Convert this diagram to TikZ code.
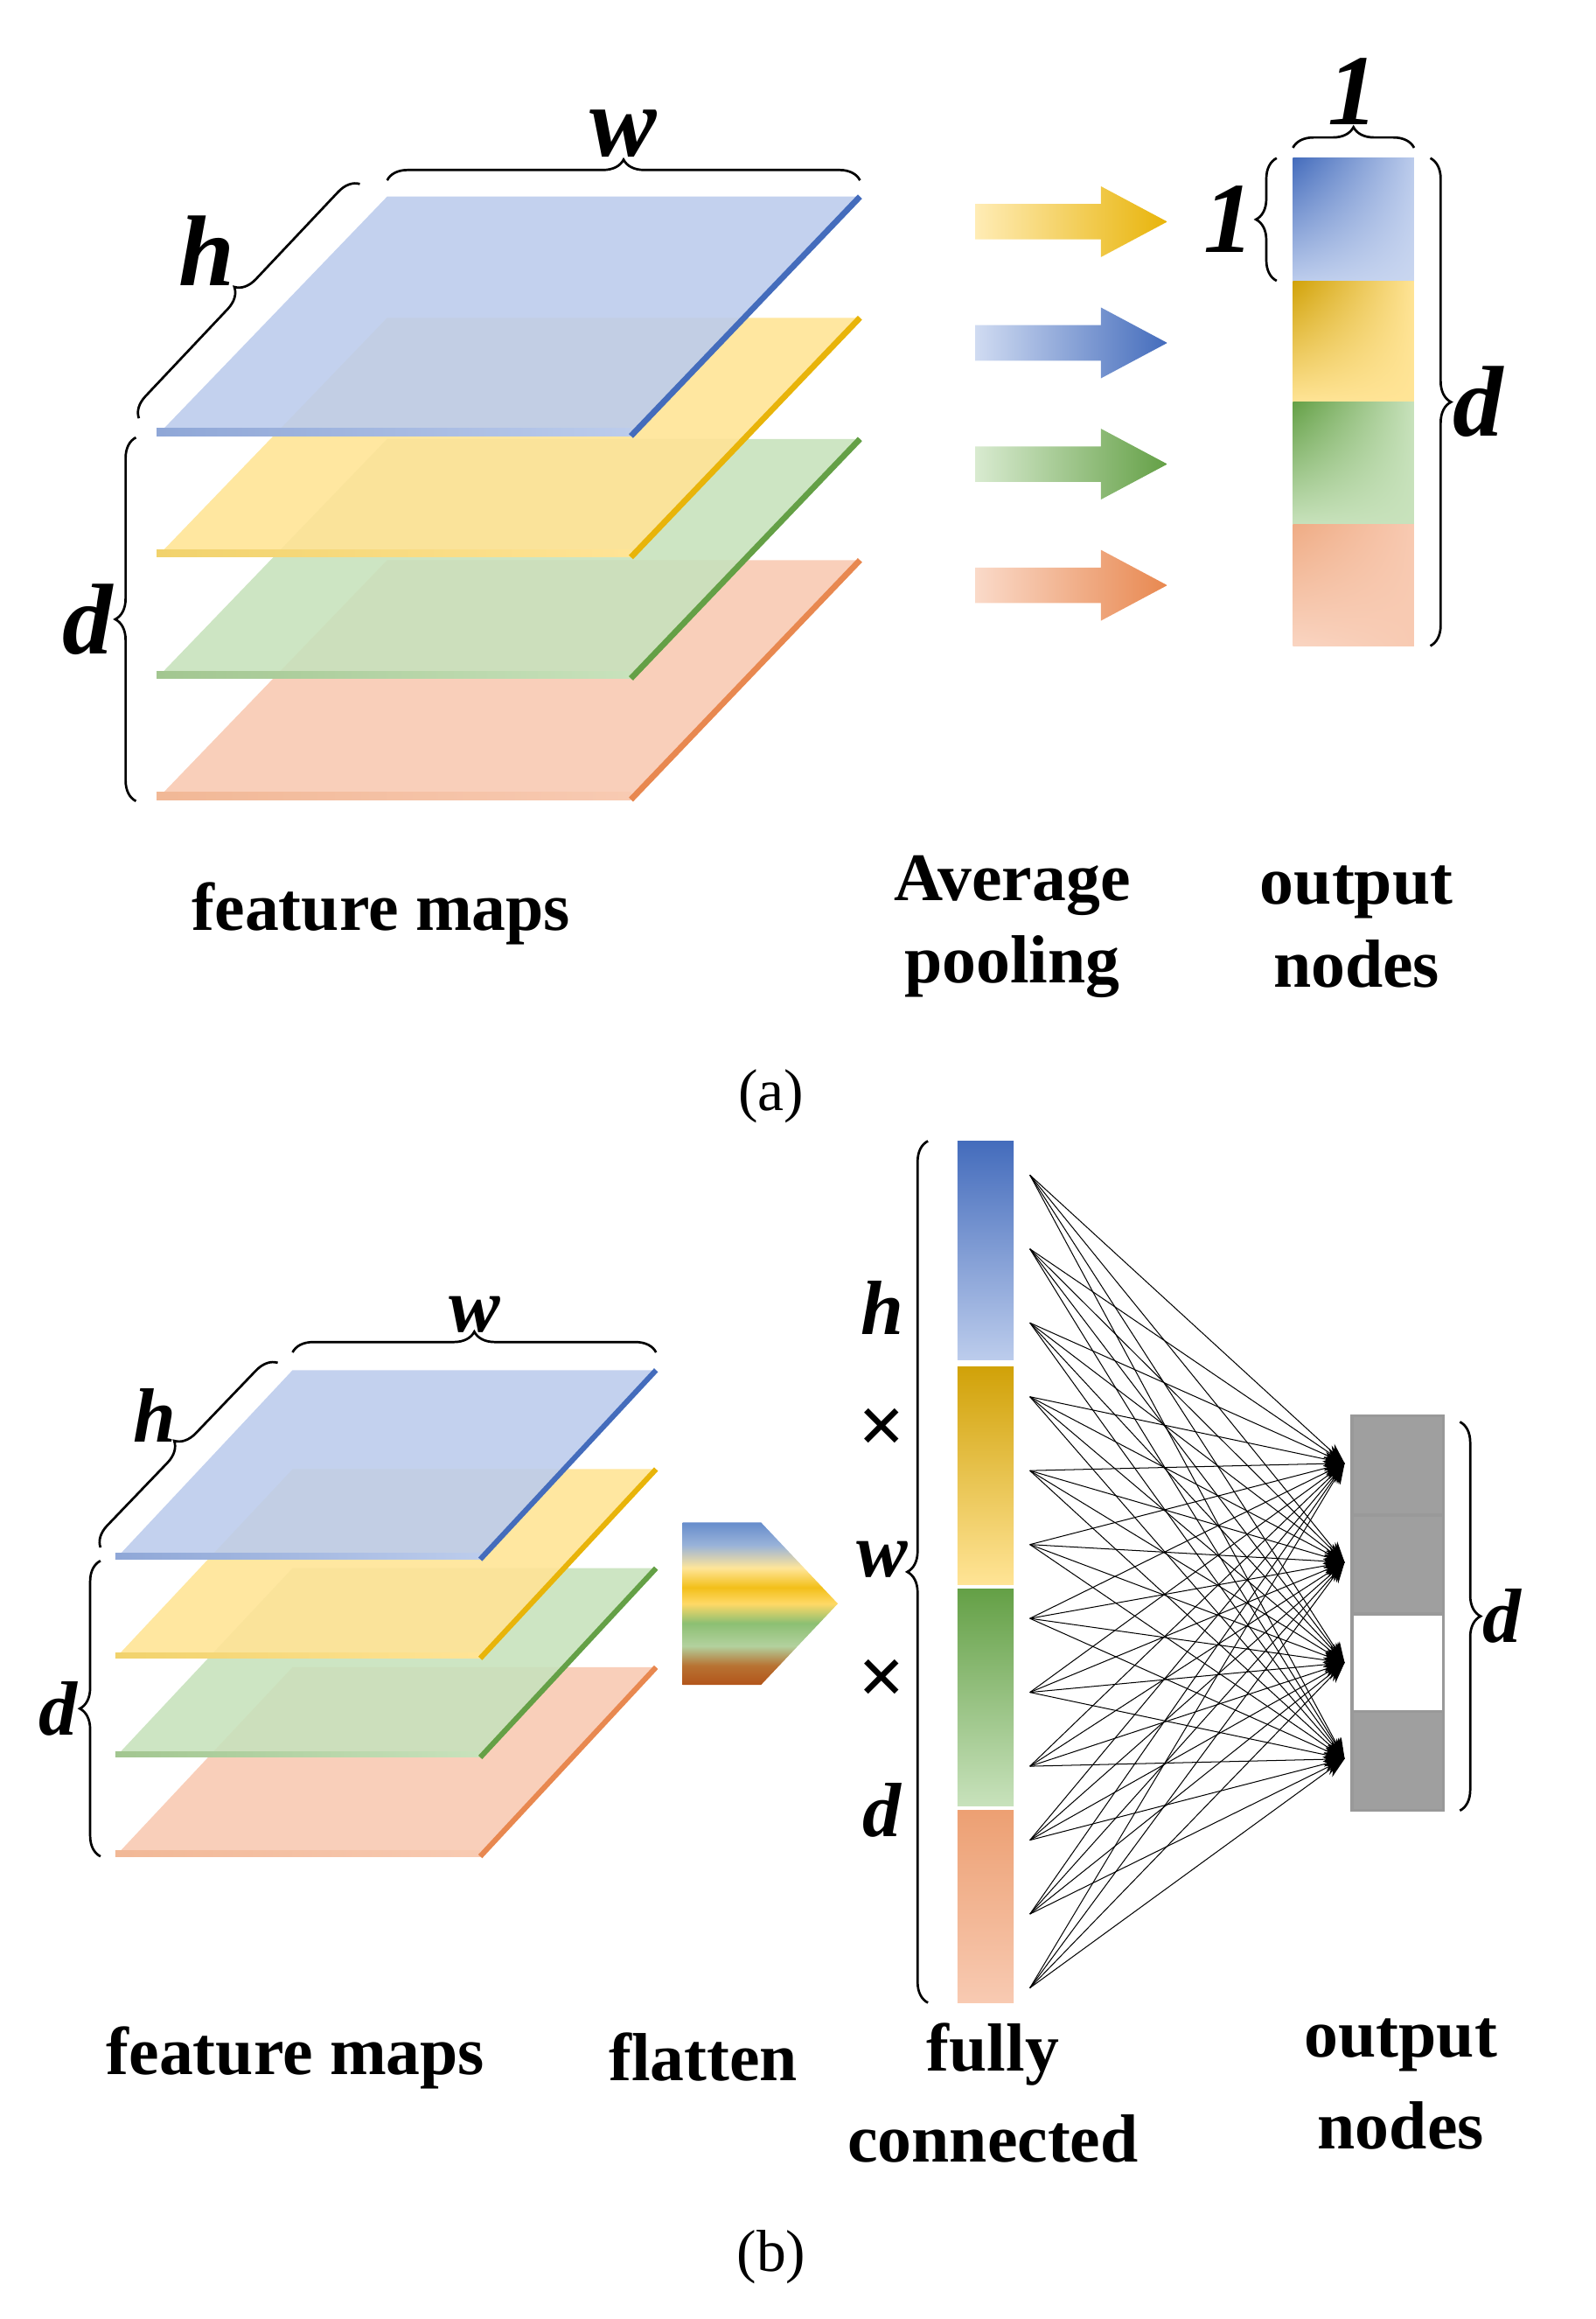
\documentclass[tikz,border=0pt]{standalone}
\usepackage{fontspec}
\setmainfont{Liberation Serif}
\usetikzlibrary{arrows.meta,decorations.pathreplacing,positioning,shadings}
\definecolor{bluF}{RGB}{188,204,236}\definecolor{bluE}{RGB}{68,108,188}
\definecolor{yelF}{RGB}{255,228,150}\definecolor{yelE}{RGB}{232,180,10}
\definecolor{grnF}{RGB}{200,226,188}\definecolor{grnE}{RGB}{100,160,70}
\definecolor{ornF}{RGB}{248,202,178}\definecolor{ornE}{RGB}{232,136,80}
\pgfdeclareverticalshading{flatmix}{100bp}{
  rgb(0bp)=(0.70,0.33,0.10); rgb(25bp)=(0.70,0.33,0.10); rgb(31bp)=(0.72,0.45,0.20); rgb(37bp)=(0.70,0.82,0.62);
  rgb(44bp)=(0.55,0.75,0.45); rgb(50bp)=(1,0.85,0.40); rgb(55bp)=(0.95,0.75,0.10);
  rgb(61bp)=(1,0.90,0.60); rgb(68bp)=(0.60,0.70,0.85); rgb(75bp)=(0.40,0.55,0.80); rgb(100bp)=(0.40,0.55,0.80)}
\tikzset{
  brc/.style={decorate,decoration={brace,amplitude=7pt},line width=0.8pt},
  dim/.style={font=\fontsize{34}{34}\selectfont\bfseries\itshape},
  dimb/.style={font=\fontsize{26}{26}\selectfont\bfseries\itshape},
  lbl/.style={font=\fontsize{23}{28}\selectfont\bfseries,align=center},
  fc/.style={-{Stealth[length=7pt,width=5pt]},line width=0.3pt},
}
\begin{document}
\begin{tikzpicture}[x=0.5pt,y=-0.5pt]
\useasboundingbox (0,0) rectangle (1080,1569);

% (a) feature maps
\foreach \i/\f/\e in {3/ornF/ornE,2/grnF/grnE,1/yelF/yelE,0/bluF/bluE}{
  \pgfmathsetmacro\dy{82*\i}
  \fill[\f,fill opacity=0.9] (106,295+\dy) -- (427,295+\dy) -- (582,133+\dy) -- (262,133+\dy) -- cycle;
  \shade[left color=\e!60,right color=\f] (106,295+\dy) rectangle (427,290+\dy);
  \draw[\e,line width=2pt] (427,295+\dy) -- (582,133+\dy);
}
\draw[brc] (262,122) -- node[dim,above=4pt] {w} (582,122);
\draw[brc] (94,283) -- node[dim,above left=2pt] {h} (244,124);
\draw[brc] (92,542) -- node[dim,left=4pt] {d} (92,296);

% (a) pooling arrows
\foreach \j/\f/\e in {0/yelF/yelE,1/bluF/bluE,2/grnF/grnE,3/ornF/ornE}{
  \pgfmathsetmacro\ay{150+82*\j}
  \shade[left color=\f!70,right color=\e] (660,\ay-12) -- (745,\ay-12) -- (745,\ay-24) -- (790,\ay) -- (745,\ay+24) -- (745,\ay+12) -- (660,\ay+12) -- cycle;
}

% (a) output nodes
\shade[upper left=bluE,lower right=bluF!80,upper right=bluF,lower left=bluF] (875,107) rectangle (957,190);
\shade[upper left=yelE!90!black,lower right=yelF,upper right=yelF,lower left=yelF] (875,190) rectangle (957,272);
\shade[upper left=grnE,lower right=grnF,upper right=grnF,lower left=grnF] (875,272) rectangle (957,355);
\shade[upper left=ornE!70,lower right=ornF,upper right=ornF,lower left=ornF!80] (875,355) rectangle (957,437);
\draw[brc] (875,100) -- node[dim,above=4pt] {1} (957,100);
\draw[brc] (864,190) -- node[dim,left=4pt] {1} (864,107);
\draw[brc] (968,107) -- node[dim,right=4pt] {d} (968,437);

\node[lbl] (fmA) at (258,618) {feature maps};
\node[lbl] (apA) at (685,627) {Average\\pooling};
\node[lbl] (onA) at (918,627) {output\\nodes};
\node[font=\fontsize{20}{20}\selectfont] (capA) at (522,742) {(a)};

% (b) feature maps
\foreach \i/\f/\e in {3/ornF/ornE,2/grnF/grnE,1/yelF/yelE,0/bluF/bluE}{
  \pgfmathsetmacro\dy{67*\i}
  \fill[\f,fill opacity=0.9] (78,1055+\dy) -- (325,1055+\dy) -- (444,927+\dy) -- (198,927+\dy) -- cycle;
  \shade[left color=\e!60,right color=\f] (78,1055+\dy) rectangle (325,1051+\dy);
  \draw[\e,line width=1.8pt] (325,1055+\dy) -- (444,927+\dy);
}
\draw[brc] (198,915) -- node[dimb,above=3pt] {w} (444,915);
\draw[brc] (68,1047) -- node[dimb,above left=1pt] {h} (188,922);
\draw[brc] (68,1256) -- node[dimb,left=4pt] {d} (68,1056);

% (b) flatten
\shade[shading=flatmix] (462,1030) -- (515,1030) -- (567,1085) -- (515,1140) -- (462,1140) -- cycle;

% (b) flattened column
\shade[top color=bluE,bottom color=bluF] (648,772) rectangle (686,920);
\shade[top color=yelE!90!black,bottom color=yelF] (648,925) rectangle (686,1072);
\shade[top color=grnE,bottom color=grnF] (648,1075) rectangle (686,1222);
\shade[top color=ornE!80,bottom color=ornF] (648,1225) rectangle (686,1355);
\draw[brc] (628,1355) -- (628,772);
\node[dimb] (hB) at (597,885) {h};
\node[dimb,font=\fontsize{28}{28}\selectfont\bfseries] (x1B) at (597,968) {×};
\node[dimb] (wB) at (597,1055) {w};
\node[dimb,font=\fontsize{28}{28}\selectfont\bfseries] (x2B) at (597,1138) {×};
\node[dimb] (dB) at (597,1225) {d};

% (b) output nodes
\draw[gray!80,line width=1pt,fill=gray!75] (915,958) rectangle (977,1025);
\draw[gray!80,line width=1pt,fill=gray!75] (915,1025) rectangle (977,1092);
\draw[gray!80,line width=1pt,fill=white] (915,1092) rectangle (977,1158);
\draw[gray!80,line width=1pt,fill=gray!75] (915,1158) rectangle (977,1225);
\draw[brc] (988,962) -- node[dimb,right=4pt] {d} (988,1225);

% (b) fully connected
\foreach \s in {1,...,12}
  \coordinate (src\s) at (697,745+50*\s);
\foreach \k/\ky in {1/990,2/1057,3/1125,4/1190}
  \coordinate (tgt\k) at (910,\ky);
\foreach \s in {1,...,12}
  \foreach \k in {1,...,4}
    \draw[fc] (src\s) -- (tgt\k);

\node[lbl] (fmB) at (200,1392) {feature maps};
\node[lbl] (flB) at (476,1392) {flatten};
\node[lbl,font=\fontsize{23}{31}\selectfont\bfseries] (fcB) at (672,1416) {fully\\connected};
\node[lbl,font=\fontsize{23}{31}\selectfont\bfseries] (onB) at (948,1410) {output\\nodes};
\node[font=\fontsize{20}{20}\selectfont] (capB) at (522,1527) {(b)};
\end{tikzpicture}
\end{document}
